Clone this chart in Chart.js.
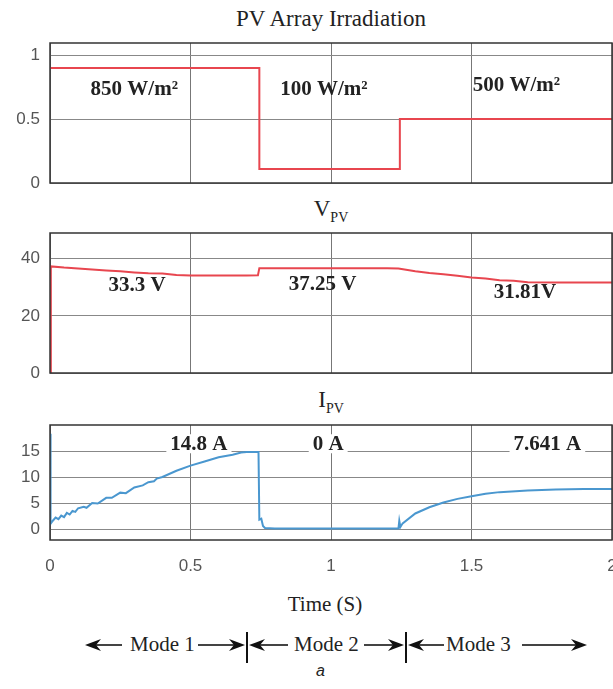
<!DOCTYPE html>
<html>
<head>
<meta charset="utf-8">
<script src="https://cdn.jsdelivr.net/npm/chart.js@4.4.0/dist/chart.umd.min.js"></script>
<style>
  html, body { margin: 0; padding: 0; background: #fff; overflow: hidden; }
  body { width: 613px; height: 689px; position: relative; font-family: "Liberation Serif", serif; color: #222; }
  canvas { position: absolute; left: 0; }
  .title { position: absolute; left: 0; width: 662px; text-align: center; font-size: 23px; line-height: 1; }
  .title sub { font-size: 14px; vertical-align: -6px; }
  #xlabel { position: absolute; left: 0; width: 650px; top: 592px; text-align: center; font-size: 21px; }
  #sub { position: absolute; left: 316px; top: 662px; font-family: "Liberation Sans", sans-serif; font-style: italic; font-size: 16px; }
  svg { position: absolute; left: 0; top: 620px; }
</style>
</head>
<body>
<div class="title" style="top:7px">PV Array Irradiation</div>
<canvas id="c1" width="613" height="150" style="top:39px"></canvas>
<div class="title" style="top:197px">V<sub>PV</sub></div>
<canvas id="c2" width="613" height="150" style="top:229px"></canvas>
<div class="title" style="top:388px">I<sub>PV</sub></div>
<canvas id="c3" width="613" height="160" style="top:421px"></canvas>
<div id="xlabel">Time (S)</div>
<svg width="613" height="50">
  <g stroke="#444" stroke-width="2">
    <line x1="95" y1="25" x2="122" y2="25"/>
    <line x1="198" y1="25" x2="235" y2="25"/>
    <line x1="259" y1="25" x2="288" y2="25"/>
    <line x1="364" y1="25" x2="394" y2="25"/>
    <line x1="418" y1="25" x2="444" y2="25"/>
    <line x1="522" y1="25" x2="577" y2="25"/>
  </g>
  <g stroke="#111" stroke-width="2">
    <line x1="247" y1="12" x2="247" y2="43"/>
    <line x1="406" y1="12" x2="406" y2="43"/>
  </g>
  <g fill="#111">
    <polygon points="85,25 101,19 96,25 101,31"/>
    <polygon points="245,25 229,19 234,25 229,31"/>
    <polygon points="249,25 265,19 260,25 265,31"/>
    <polygon points="404,25 388,19 393,25 388,31"/>
    <polygon points="408,25 424,19 419,25 424,31"/>
    <polygon points="587,25 571,19 576,25 571,31"/>
  </g>
  <g font-family="Liberation Serif" font-size="21" fill="#222">
    <text x="130" y="31">Mode 1</text>
    <text x="294" y="31">Mode 2</text>
    <text x="446" y="31">Mode 3</text>
  </g>
</svg>
<div id="sub">a</div>
<script>
// time axis (s)
const xTicks = [0, 0.5, 1, 1.5, 2]

// irradiation (kW/m2)
const irrTime = [0, 0.745, 0.745, 1.245, 1.245, 2]
const irrValue = [0.9, 0.9, 0.11, 0.11, 0.5, 0.5]
const irrTicks = [0, 0.5, 1]
const irrLabels = ['850 W/m²', '100 W/m²', '500 W/m²']

// PV voltage (V)
const vTime = [0, 0.003, 0.05, 0.1, 0.15, 0.2, 0.25, 0.3, 0.35, 0.4, 0.45, 0.5, 0.6, 0.7, 0.74, 0.745, 0.8, 1.0, 1.2, 1.24, 1.3, 1.35, 1.4, 1.45, 1.5, 1.55, 1.6, 1.65, 1.7, 1.8, 1.9, 2.0]
const vValue = [0, 37.3, 36.9, 36.6, 36.2, 35.9, 35.6, 35.2, 34.9, 34.8, 34.3, 34.1, 34.1, 34.1, 34.2, 36.7, 36.7, 36.7, 36.7, 36.6, 35.6, 35.0, 34.6, 34.0, 33.4, 33.1, 32.5, 32.3, 31.8, 31.7, 31.7, 31.7]
const vTicks = [0, 20, 40]
const vLabels = ['33.3 V', '37.25 V', '31.81V']

// PV current (A)
const iTime = [0, 0.002, 0.01, 0.02, 0.03, 0.04, 0.05, 0.06, 0.07, 0.08, 0.09, 0.1, 0.12, 0.13, 0.15, 0.17, 0.2, 0.22, 0.25, 0.27, 0.3, 0.33, 0.35, 0.37, 0.38, 0.4, 0.45, 0.5, 0.55, 0.6, 0.65, 0.68, 0.7, 0.742, 0.745, 0.752, 0.758, 0.765, 0.8, 1.0, 1.24, 1.243, 1.247, 1.255, 1.3, 1.35, 1.4, 1.45, 1.5, 1.55, 1.6, 1.7, 1.8, 1.9, 2.0]
const iValue = [18.3, 1.0, 1.6, 2.2, 1.9, 2.6, 2.3, 3.1, 2.8, 3.5, 3.3, 4.0, 4.3, 4.1, 5.0, 4.9, 6.0, 6.0, 7.0, 6.9, 8.0, 8.4, 9.0, 9.2, 9.7, 10.0, 11.2, 12.2, 13.0, 13.8, 14.3, 14.7, 14.8, 14.8, 1.8, 2.0, 0.6, 0.2, 0.1, 0.1, 0.1, 1.6, 0.4, 1.1, 3.0, 4.2, 5.1, 5.8, 6.3, 6.8, 7.1, 7.4, 7.6, 7.7, 7.7]
const iTicks = [0, 5, 10, 15]
const iLabels = ['14.8 A', '0 A', '7.641 A']

const toXY = (xs, ys) => xs.map((x, i) => ({ x: x, y: ys[i] }))

const frame = {
  id: 'frame',
  afterDatasetsDraw(chart) {
    const a = chart.chartArea
    const ctx = chart.ctx
    ctx.save()
    ctx.strokeStyle = '#333'
    ctx.lineWidth = 1.5
    ctx.strokeRect(a.left, a.top, a.right - a.left, a.bottom - a.top)
    ctx.restore()
  }
}

const notes = {
  id: 'notes',
  afterDatasetsDraw(chart, args, opts) {
    const ctx = chart.ctx
    const xs = chart.scales.x
    const ys = chart.scales.y
    ctx.save()
    ctx.font = 'bold 21px "Liberation Serif"'
    ctx.textAlign = 'center'
    ctx.textBaseline = 'middle'
    opts.items.forEach(item => {
      const px = xs.getPixelForValue(item.x)
      const py = ys.getPixelForValue(item.y)
      if (opts.box) {
        const w = ctx.measureText(item.text).width
        ctx.fillStyle = '#fff'
        ctx.fillRect(px - w / 2 - 4, py - 10, w + 8, 19)
      }
      ctx.fillStyle = '#222'
      ctx.fillText(item.text, px, py)
    })
    ctx.restore()
  }
}

function makeChart(id, points, color, yMin, yMax, yTicks, showX, noteItems, box) {
  return new Chart(document.getElementById(id).getContext('2d'), {
    type: 'line',
    data: {
      datasets: [{
        data: points,
        borderColor: color,
        borderWidth: 2,
        pointRadius: 0,
        tension: 0
      }]
    },
    options: {
      responsive: false,
      animation: false,
      layout: { autoPadding: false, padding: { top: 4, right: 1, bottom: showX ? 0 : 6, left: 0 } },
      plugins: {
        legend: { display: false },
        tooltip: { enabled: false },
        notes: { items: noteItems, box: box }
      },
      scales: {
        x: {
          type: 'linear',
          min: 0,
          max: 2,
          afterBuildTicks: s => { s.ticks = xTicks.map(v => ({ value: v })) },
          afterFit: s => {
            s.paddingLeft = 0
            s.paddingRight = 0
            s.height = showX ? 41 : 0
          },
          grid: { color: '#777', lineWidth: 1, drawTicks: false },
          border: { display: false },
          ticks: {
            display: showX,
            padding: 16,
            color: '#555',
            font: { family: '"Liberation Sans"', size: 17 },
            callback: v => String(v)
          }
        },
        y: {
          min: yMin,
          max: yMax,
          afterBuildTicks: s => { s.ticks = yTicks.map(v => ({ value: v })) },
          afterFit: s => {
            s.width = 50
            s.paddingTop = 0
            s.paddingBottom = 0
          },
          grid: { color: '#888', lineWidth: 1, drawTicks: false },
          border: { display: false },
          ticks: {
            padding: 10,
            color: '#555',
            font: { family: '"Liberation Sans"', size: 17 },
            callback: v => String(v)
          }
        }
      }
    },
    plugins: [frame, notes]
  })
}

makeChart('c1', toXY(irrTime, irrValue), '#e8464f', 0, 1.095, irrTicks, false, [
  { x: 0.30, y: 0.73, text: irrLabels[0] },
  { x: 0.975, y: 0.73, text: irrLabels[1] },
  { x: 1.66, y: 0.76, text: irrLabels[2] }
], false)

makeChart('c2', toXY(vTime, vValue), '#e8464f', 0, 49, vTicks, false, [
  { x: 0.31, y: 30.5, text: vLabels[0] },
  { x: 0.97, y: 31, text: vLabels[1] },
  { x: 1.69, y: 28, text: vLabels[2] }
], false)

makeChart('c3', toXY(iTime, iValue), '#4a97cf', -2.1, 20, iTicks, true, [
  { x: 0.53, y: 16.3, text: iLabels[0] },
  { x: 0.99, y: 16.3, text: iLabels[1] },
  { x: 1.77, y: 16.3, text: iLabels[2] }
], true)
</script>
</body>
</html>
